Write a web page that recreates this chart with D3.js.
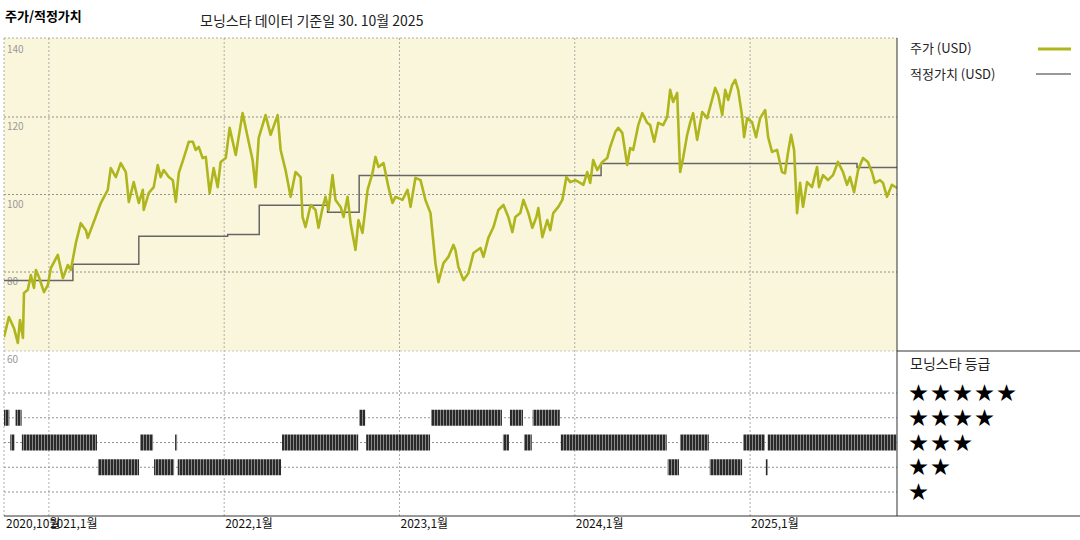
<!doctype html>
<html>
<head>
<meta charset="utf-8">
<script src="https://d3js.org/d3.v7.min.js"></script>
<style>
  body { margin: 0; background: #fff; }
  text { font-family: 'Noto Sans CJK KR', 'Noto Sans', sans-serif; }
</style>
</head>
<body>
<svg id="chart" width="1080" height="540"></svg>
<script>
// price (decimal year, USD)
const priceData = [
  [2020.744,63.2],[2020.772,68.4],[2020.801,65.5],[2020.823,61.7],[2020.835,67.6],[2020.852,63.0],[2020.858,74.6],
  [2020.880,75.4],[2020.897,79.2],[2020.915,75.9],[2020.926,80.5],[2020.943,78.7],[2020.972,74.8],[2020.994,76.6],
  [2021.011,81.0],[2021.051,84.4],[2021.080,78.4],[2021.108,81.8],[2021.125,80.5],[2021.154,87.5],[2021.182,92.6],
  [2021.211,90.8],[2021.222,88.8],[2021.256,92.9],[2021.296,97.8],[2021.336,101.2],[2021.353,106.8],[2021.382,104.5],
  [2021.410,108.1],[2021.439,105.8],[2021.456,98.1],[2021.484,103.2],[2021.513,97.8],[2021.536,101.2],[2021.541,96.0],
  [2021.570,100.4],[2021.598,101.9],[2021.621,107.6],[2021.638,104.5],[2021.655,106.3],[2021.684,104.5],[2021.707,103.7],
  [2021.724,98.1],[2021.741,105.5],[2021.769,109.4],[2021.798,113.6],[2021.821,113.6],[2021.838,111.5],[2021.855,112.3],
  [2021.877,109.4],[2021.895,109.7],[2021.917,100.4],[2021.940,106.8],[2021.963,101.9],[2021.980,108.4],[2022.009,109.4],
  [2022.031,117.2],[2022.066,110.2],[2022.105,121.0],[2022.134,114.8],[2022.162,108.9],[2022.179,101.9],[2022.197,114.6],
  [2022.236,120.5],[2022.265,115.4],[2022.305,120.5],[2022.322,111.5],[2022.350,106.3],[2022.379,99.4],[2022.407,105.8],
  [2022.436,104.5],[2022.447,94.2],[2022.464,91.6],[2022.493,97.3],[2022.521,96.0],[2022.538,91.4],[2022.561,96.5],
  [2022.578,99.4],[2022.595,96.0],[2022.618,105.0],[2022.635,98.6],[2022.664,96.8],[2022.681,94.2],[2022.704,99.4],
  [2022.721,92.6],[2022.749,85.7],[2022.766,93.4],[2022.789,90.1],[2022.818,101.2],[2022.846,105.5],[2022.863,109.7],
  [2022.880,107.1],[2022.909,108.1],[2022.937,101.9],[2022.960,97.8],[2022.977,99.4],[2023.017,98.6],[2023.046,101.2],
  [2023.063,96.8],[2023.091,104.3],[2023.120,103.7],[2023.148,98.6],[2023.177,95.2],[2023.205,82.3],[2023.222,77.4],
  [2023.251,82.3],[2023.279,83.9],[2023.308,87.0],[2023.319,85.7],[2023.336,81.3],[2023.365,77.9],[2023.393,79.7],
  [2023.422,84.9],[2023.462,86.2],[2023.479,83.9],[2023.507,88.8],[2023.536,91.6],[2023.564,96.0],[2023.593,97.3],
  [2023.621,94.2],[2023.644,90.3],[2023.661,94.2],[2023.689,95.2],[2023.707,98.6],[2023.735,95.2],[2023.758,91.4],
  [2023.781,94.2],[2023.792,96.5],[2023.815,89.0],[2023.843,93.4],[2023.860,90.8],[2023.877,95.2],[2023.906,96.8],
  [2023.929,98.6],[2023.952,104.5],[2023.974,103.2],[2024.003,103.7],[2024.031,103.0],[2024.049,102.5],[2024.071,105.8],
  [2024.088,103.0],[2024.105,108.9],[2024.128,106.3],[2024.157,108.4],[2024.185,109.4],[2024.202,112.3],[2024.231,116.1],
  [2024.248,117.2],[2024.271,115.9],[2024.299,107.6],[2024.316,112.0],[2024.333,111.5],[2024.362,117.9],[2024.385,121.0],
  [2024.413,118.5],[2024.430,117.9],[2024.453,113.6],[2024.476,118.5],[2024.504,117.9],[2024.527,120.0],[2024.544,127.0],
  [2024.561,123.9],[2024.584,126.2],[2024.601,105.8],[2024.618,109.4],[2024.641,115.4],[2024.658,118.5],[2024.675,121.0],
  [2024.698,114.1],[2024.727,121.3],[2024.755,119.7],[2024.772,122.6],[2024.801,127.5],[2024.818,125.7],[2024.841,120.5],
  [2024.858,127.0],[2024.875,124.4],[2024.898,128.3],[2024.915,129.6],[2024.932,127.0],[2024.955,120.0],[2024.966,114.8],
  [2024.983,119.7],[2025.011,118.7],[2025.034,114.8],[2025.057,119.7],[2025.086,121.8],[2025.103,114.8],[2025.125,111.0],
  [2025.154,111.5],[2025.182,105.8],[2025.199,105.5],[2025.216,110.7],[2025.234,115.4],[2025.251,111.5],[2025.268,95.2],
  [2025.285,103.0],[2025.302,96.8],[2025.325,103.2],[2025.353,101.9],[2025.382,107.1],[2025.393,101.9],[2025.416,105.0],
  [2025.444,103.7],[2025.473,105.0],[2025.501,108.4],[2025.530,105.8],[2025.553,102.5],[2025.570,104.5],[2025.593,100.6],
  [2025.616,106.3],[2025.644,109.4],[2025.672,108.4],[2025.695,105.8],[2025.712,103.0],[2025.741,103.7],[2025.758,103.0],
  [2025.781,99.4],[2025.809,102.5],[2025.838,101.7]
];

// fair value steps: start year, value
const fairStart = [2020.744, 2021.137, 2021.513, 2022.02, 2022.20, 2022.59, 2022.77, 2024.15, 2025.61];
const fairValue = [77.8, 82.0, 89.2, 89.7, 97.2, 95.4, 104.9, 108.0, 107.0];
const endYear = 2025.838;

// star rating periods: [from, to, stars]
const ratings = [
  [2020.744,2020.78,4],[2020.81,2020.85,4],[2022.77,2022.81,4],[2023.18,2023.59,4],[2023.63,2023.71,4],[2023.76,2023.92,4],
  [2020.78,2020.81,3],[2020.846,2021.28,3],[2021.52,2021.60,3],[2021.72,2021.735,3],[2022.33,2022.77,3],[2022.81,2023.18,3],
  [2023.59,2023.63,3],[2023.71,2023.76,3],[2023.92,2024.53,3],[2024.60,2024.77,3],[2024.96,2025.09,3],[2025.10,2025.84,3],
  [2021.28,2021.52,2],[2021.60,2021.72,2],[2021.735,2022.33,2],[2024.53,2024.60,2],[2024.77,2024.96,2],[2025.09,2025.10,2]
];

const yTicks = [140, 120, 100, 80, 60];
const xTicks = [2020.75, 2021, 2022, 2023, 2024, 2025];
const xTickLabels = ["2020,10월", "2021,1월", "2022,1월", "2023,1월", "2024,1월", "2025,1월"];
const starLevels = [5, 4, 3, 2, 1];

const svg = d3.select("#chart");
const L = 4, R = 897, T = 38, MID = 351, B = 516;

const x = d3.scaleLinear().domain([2020.744, endYear]).range([L, R]);
const y = d3.scaleLinear().domain([60, 140]).range([349.5, 39.5]);
const yStar = d3.scalePoint().domain(starLevels).range([393, 492]);

// titles
svg.append("text").attr("x", 5).attr("y", 21).attr("font-size", 13).attr("font-weight", "bold").text("주가/적정가치");
svg.append("text").attr("x", 200).attr("y", 26).attr("font-size", 14).attr("fill", "#222").text("모닝스타 데이터 기준일 30. 10월 2025");

// panels
svg.append("rect").attr("x", L).attr("y", T).attr("width", R - L).attr("height", MID - T).attr("fill", "#faf6dc");

const grid = svg.append("g").attr("stroke", "#777").attr("stroke-dasharray", "2,2").attr("stroke-width", 0.8);
[120, 100, 80].forEach(v => grid.append("line").attr("x1", L).attr("x2", R).attr("y1", y(v)).attr("y2", y(v)));
starLevels.forEach(s => grid.append("line").attr("x1", L).attr("x2", R).attr("y1", yStar(s)).attr("y2", yStar(s)));
xTicks.slice(1).forEach(t => grid.append("line").attr("x1", x(t)).attr("x2", x(t)).attr("y1", T).attr("y2", B).attr("stroke", "#999"));
grid.append("line").attr("x1", L).attr("x2", R).attr("y1", T).attr("y2", T).attr("stroke", "#999");
grid.append("line").attr("x1", L).attr("x2", L).attr("y1", T).attr("y2", B).attr("stroke", "#999");
grid.append("line").attr("x1", L).attr("x2", R).attr("y1", MID).attr("y2", MID).attr("stroke", "#bbb");

// y labels
svg.selectAll(".ylab").data(yTicks).join("text")
  .attr("x", L + 3).attr("y", d => y(d) + 13).attr("font-size", 10).attr("fill", "#999")
  .text(d => d);

// clip
svg.append("clipPath").attr("id", "clip").append("rect").attr("x", L).attr("y", T).attr("width", R - L).attr("height", MID - T);

// fair value step line
const fairPts = fairStart.map((s, i) => [s, fairValue[i]]);
fairPts.push([endYear, fairValue[fairValue.length - 1]]);
svg.append("path").datum(fairPts)
  .attr("d", d3.line().x(d => x(d[0])).y(d => y(d[1])).curve(d3.curveStepAfter))
  .attr("fill", "none").attr("stroke", "#666").attr("stroke-width", 1.5);

// price line
svg.append("path").datum(priceData).attr("clip-path", "url(#clip)")
  .attr("d", d3.line().x(d => x(d[0])).y(d => y(d[1])))
  .attr("fill", "none").attr("stroke", "#afb51c").attr("stroke-width", 2.6).attr("stroke-linejoin", "round");

// rating bars with stripes
const pat = svg.append("defs").append("pattern").attr("id", "stripes")
  .attr("patternUnits", "userSpaceOnUse").attr("width", 3).attr("height", 10);
pat.append("rect").attr("width", 3).attr("height", 10).attr("fill", "#2a2a2a");
pat.append("rect").attr("x", 2).attr("width", 1).attr("height", 10).attr("fill", "#888");

svg.selectAll(".rbar").data(ratings).join("rect")
  .attr("x", d => x(d[0])).attr("width", d => Math.max(2, x(d[1]) - x(d[0]) - 1))
  .attr("y", d => yStar(d[2]) - 8).attr("height", 16)
  .attr("fill", "url(#stripes)");

// frame lines
svg.append("line").attr("x1", R).attr("x2", R).attr("y1", T).attr("y2", B).attr("stroke", "#333");
svg.append("line").attr("x1", R).attr("x2", 1080).attr("y1", MID).attr("y2", MID).attr("stroke", "#333");
svg.append("line").attr("x1", L).attr("x2", 1080).attr("y1", B).attr("y2", B).attr("stroke", "#333");

// x labels
svg.selectAll(".xlab").data(xTicks).join("text")
  .attr("x", d => x(d) + 1).attr("y", 528).attr("font-size", 12).attr("fill", "#111")
  .text((d, i) => xTickLabels[i]);

// legend
svg.append("text").attr("x", 910).attr("y", 53).attr("font-size", 13).attr("fill", "#222").text("주가 (USD)");
svg.append("line").attr("x1", 1038).attr("x2", 1071).attr("y1", 49).attr("y2", 49).attr("stroke", "#afb51c").attr("stroke-width", 3);
svg.append("text").attr("x", 910).attr("y", 79).attr("font-size", 13).attr("fill", "#222").text("적정가치 (USD)");
svg.append("line").attr("x1", 1036).attr("x2", 1071).attr("y1", 74).attr("y2", 74).attr("stroke", "#777").attr("stroke-width", 1.5);

svg.append("text").attr("x", 910).attr("y", 369).attr("font-size", 14).attr("fill", "#222").text("모닝스타 등급");
svg.selectAll(".stars").data(starLevels).join("text")
  .attr("x", 909).attr("y", d => yStar(d) + 7).attr("font-size", 19).attr("letter-spacing", 3)
  .attr("font-family", "DejaVu Sans")
  .text(d => "★".repeat(d));
</script>
</body>
</html>
